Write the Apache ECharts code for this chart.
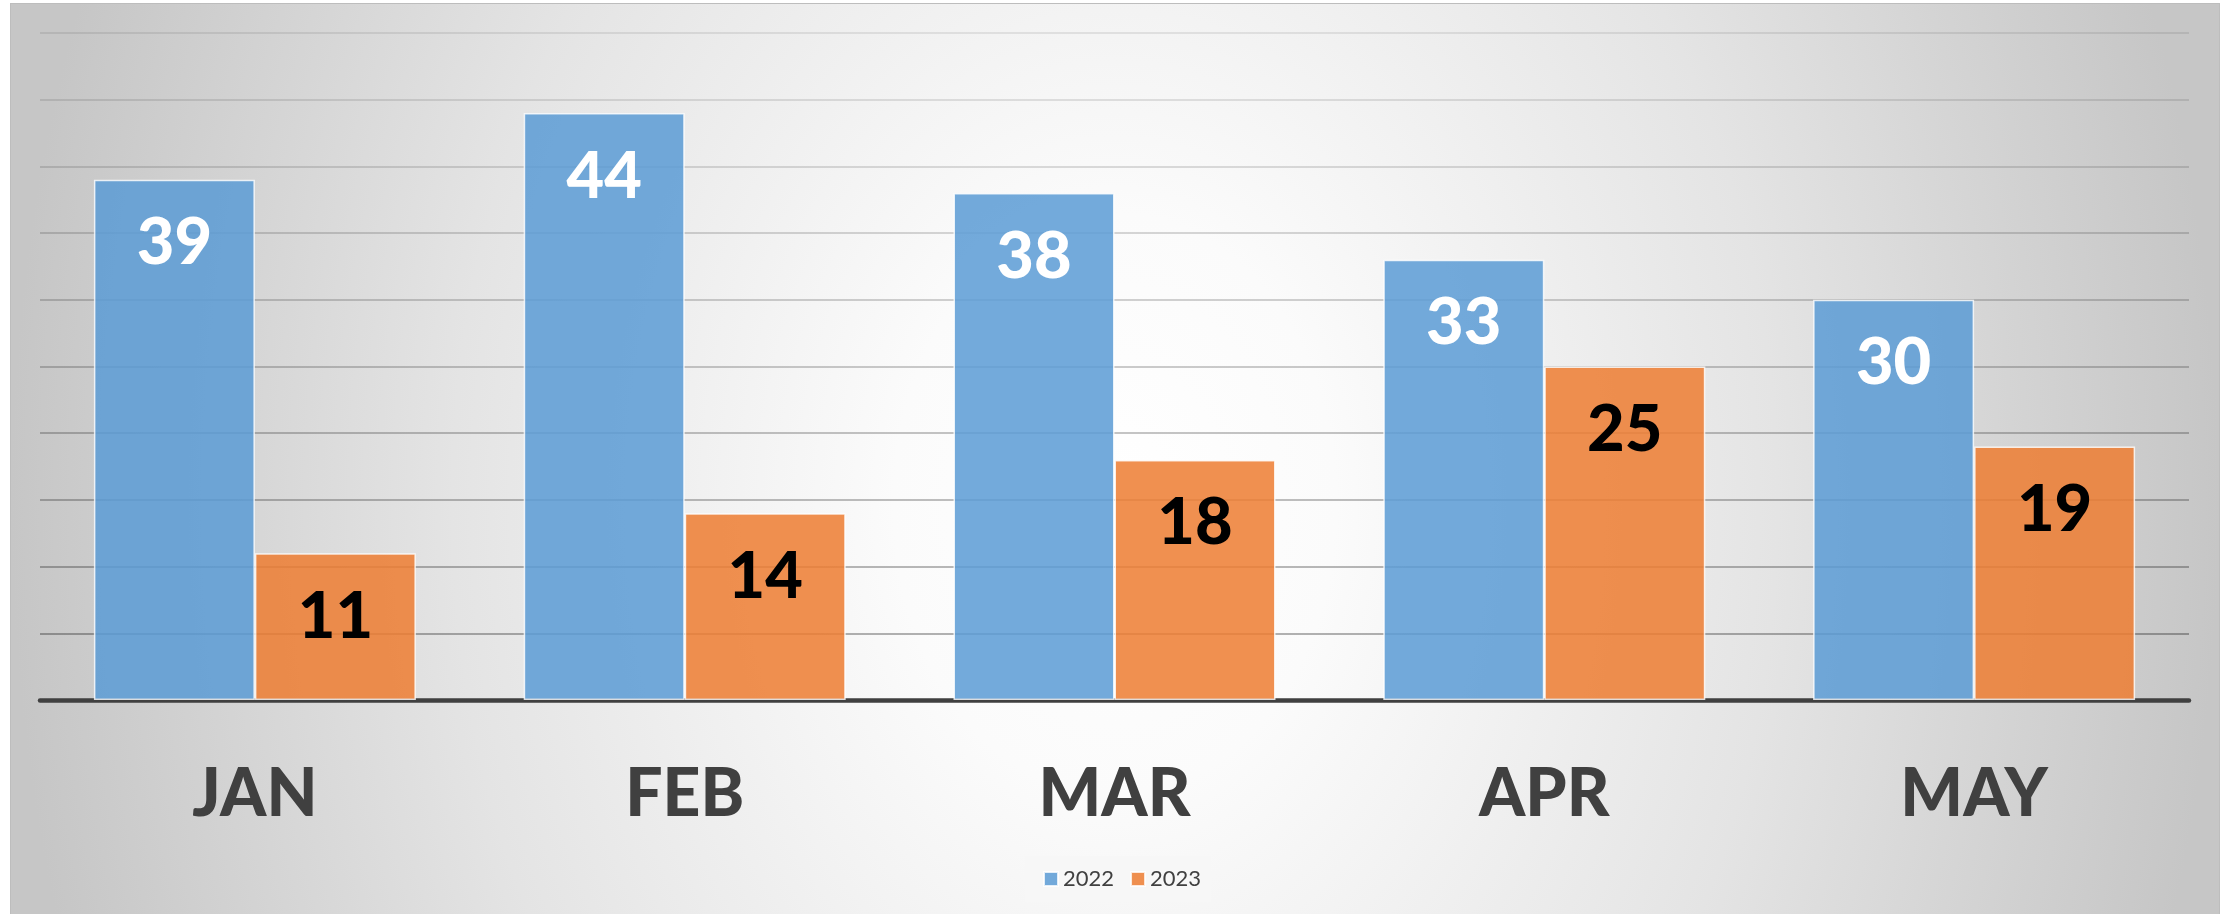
<!DOCTYPE html>
<html>
<head>
<meta charset="utf-8">
<script src="https://cdn.jsdelivr.net/npm/echarts@6/dist/echarts.min.js"></script>
<style>
    html, body { margin: 0; padding: 0; background: #ffffff; }
    .panel {
        position: absolute;
        left: 10px; top: 3px;
        width: 2208px; height: 910px;
        border: 1px solid #bdbdbd;
        border-bottom: none;
        background: radial-gradient(50% 160% at 50% 55%, #ffffff 0%, #fbfbfb 20%, #e4e4e4 60%, #c6c6c6 100%);
    }
    #chart { position: absolute; left: 0; top: 0; width: 2234px; height: 914px; }
</style>
</head>
<body>
<div class="panel"></div>
<div id="chart"></div>
<script>
    // 数据
    var months = ['JAN', 'FEB', 'MAR', 'APR', 'MAY'];
    var values2022 = [39, 44, 38, 33, 30];
    var values2023 = [11, 14, 18, 25, 19];
    var seriesNames = ['2022', '2023'];

    // gridlines get darker towards the baseline (value 0 .. 50)
    var gridColors = [];
    for (var i = 0; i <= 10; i++) {
        var a = 0.40 - (i - 1) * 0.032;
        gridColors.push('rgba(0,0,0,' + a.toFixed(3) + ')');
    }

    var font = 'Lato, "Open Sans", sans-serif';

    var myChart = echarts.init(document.getElementById('chart'));
    var option = {
        backgroundColor: 'transparent',
        animation: false,
        grid: { left: 40, right: 45, top: 33, bottom: 214 },
        legend: {
            data: seriesNames,
            left: 1025,
            top: 856,
            icon: 'rect',
            itemWidth: 14,
            itemHeight: 14,
            itemGap: 16,
            padding: [12, 10, 12, 18],
            backgroundColor: '#f7f7f7',
            textStyle: { color: '#404040', fontSize: 22, fontFamily: font }
        },
        xAxis: {
            type: 'category',
            data: months,
            axisTick: { show: false },
            axisLine: { lineStyle: { color: '#404040', width: 4.5 } },
            axisLabel: {
                margin: 62,
                color: '#404040',
                fontSize: 66,
                fontWeight: 900,
                fontFamily: font
            }
        },
        yAxis: {
            type: 'value',
            min: 0,
            max: 50,
            interval: 5,
            axisLabel: { show: false },
            axisLine: { show: false },
            axisTick: { show: false },
            splitLine: { lineStyle: { color: gridColors, width: 1.5 } }
        },
        series: [
            {
                name: seriesNames[0],
                type: 'bar',
                data: values2022,
                barWidth: 161,
                barGap: '0%',
                itemStyle: {
                    color: 'rgba(91,155,213,0.85)',
                    borderColor: 'rgba(255,255,255,0.8)',
                    borderWidth: 1.5
                },
                label: {
                    show: true,
                    position: 'insideTop',
                    distance: 31,
                    color: '#ffffff',
                    fontSize: 65,
                    fontWeight: 900,
                    fontFamily: font
                }
            },
            {
                name: seriesNames[1],
                type: 'bar',
                data: values2023,
                barWidth: 161,
                itemStyle: {
                    color: 'rgba(237,125,49,0.85)',
                    borderColor: 'rgba(255,255,255,0.8)',
                    borderWidth: 1.5
                },
                label: {
                    show: true,
                    position: 'insideTop',
                    distance: 31,
                    color: '#000000',
                    fontSize: 65,
                    fontWeight: 900,
                    fontFamily: font
                }
            }
        ]
    };
    myChart.setOption(option);
</script>
</body>
</html>
